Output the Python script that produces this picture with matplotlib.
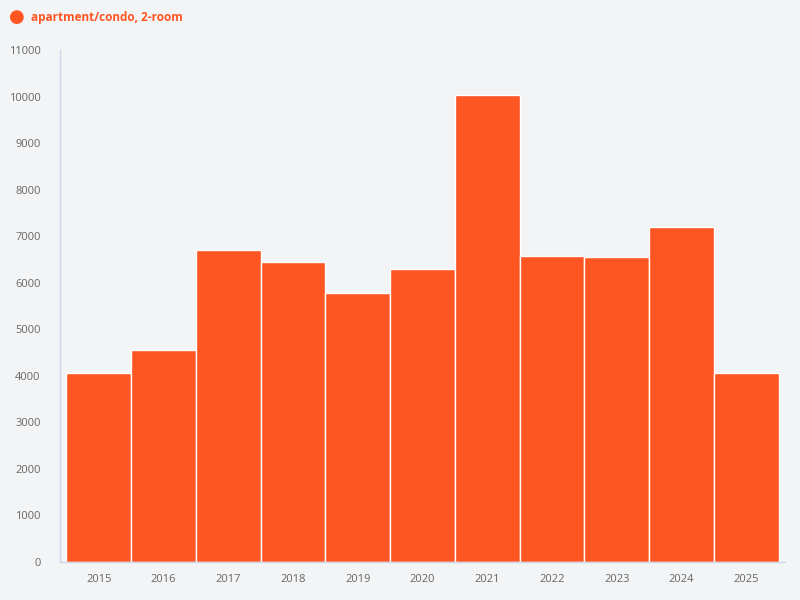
import matplotlib
matplotlib.use("Agg")
import matplotlib.pyplot as plt

years = ["2015", "2016", "2017", "2018", "2019", "2020", "2021", "2022", "2023", "2024", "2025"]
values = [4066, 4561, 6710, 6451, 5786, 6301, 10040, 6580, 6559, 7203, 4066]
series_name = "apartment/condo, 2-room"
yticks = list(range(0, 11001, 1000))

bg = "#f3f4f6"
bar_color = "#ff5522"
plt.rcParams['font.family'] = ['Open Sans', 'DejaVu Sans']

fig = plt.figure(figsize=(8, 6), dpi=100, facecolor=bg)
ax = fig.add_axes([60/800, 38/600, 725/800, 512/600], facecolor=bg)

x = list(range(len(years)))
ax.bar(x, values, width=1.0, color=bar_color, edgecolor="white", linewidth=1.0)

ax.set_xlim(-0.6, len(years) - 1 + 0.6)
ax.set_ylim(0, 11000)
ax.set_yticks(yticks)
ax.set_yticklabels([str(t) for t in yticks])
ax.set_xticks(x)
ax.set_xticklabels(years)
ax.tick_params(axis='both', length=0, labelsize=8, colors="#666666")
ax.tick_params(axis='y', pad=14)
ax.tick_params(axis='x', pad=9)
for s in ["top", "right"]:
    ax.spines[s].set_visible(False)
for s in ["left", "bottom"]:
    ax.spines[s].set_color("#ccd6eb")
    ax.spines[s].set_linewidth(1)

fig.text(17/800, 1 - 17/600, "\u25CF", color=bar_color, fontsize=13, ha="center", va="center")
fig.text(31/800, 1 - 17/600, series_name, color=bar_color, fontsize=8.5, fontweight="bold", ha="left", va="center")

fig.savefig("out.png", dpi=100, facecolor=bg)
